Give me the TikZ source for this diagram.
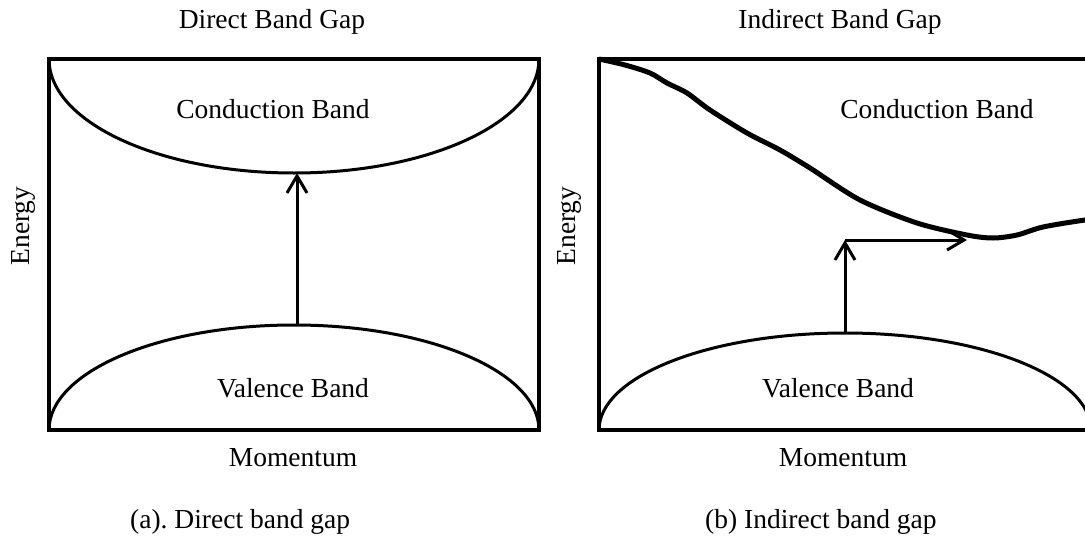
\documentclass[tikz,border=0pt]{standalone}
\usepackage{fontspec}
\setmainfont{Liberation Serif}
\usetikzlibrary{arrows.meta}
\frenchspacing
\begin{document}
\begin{tikzpicture}[x=1pt,y=-1pt,
  lbl/.style={font=\fontsize{27.5}{30}\selectfont, inner sep=0pt, anchor=base},
  vlbl/.style={font=\fontsize{27.5}{30}\selectfont, inner sep=0pt, rotate=90},
  frame/.style={line width=4.5pt, line cap=rect},
  band/.style={line width=3pt},
  bandthick/.style={line width=5pt, line join=round},
  trans/.style={line width=3pt, -{Straight Barb[length=17pt,width=20pt,line width=3pt]}}]
\useasboundingbox (0,0) rectangle (1085,538);
\begin{scope}
\clip (0,0) rectangle (1085,538);
% ---- left panel
\node[lbl] (t1) at (272,28) {Direct Band Gap};
\draw[band] (49,59) arc[start angle=180, end angle=0, x radius=245, y radius=114];
\draw[band] (49,430) arc[start angle=180, end angle=360, x radius=245, y radius=105];
\draw[frame] (49,59) rectangle (539,430);
\node[lbl] (cb1) at (273,118) {Conduction Band};
\node[lbl] (vb1) at (293,397) {Valence Band};
\node[vlbl] (e1) at (23,226) {Energy};
\node[lbl] (m1) at (293,466) {Momentum};
\node[lbl, anchor=base west] (c1) at (130,528) {(a). Direct band gap};
\coordinate (vtop1) at (297,325);
\coordinate (cbot1) at (297,173);
\draw[trans] (vtop1) -- (cbot1);
% ---- right panel
\node[lbl] (t2) at (840,28) {Indirect Band Gap};
\draw[bandthick] plot[smooth, tension=0.5] coordinates {(599,59) (625,65) (650,73) (667,83) (687,93) (710,110) (747,133) (780,150) (810,168) (860,200) (917,223) (967,235) (993,238) (1017,235) (1043,227) (1085,220) (1100,219)};
\draw[band] (599,430) arc[start angle=180, end angle=360, x radius=246, y radius=97];
\draw[frame] (599,59) rectangle (1110,430);
\node[lbl] (cb2) at (937,118) {Conduction Band};
\node[lbl] (vb2) at (838,397) {Valence Band};
\node[vlbl] (e2) at (569,226) {Energy};
\node[lbl] (m2) at (843,466) {Momentum};
\node[lbl, anchor=base west] (c2) at (705,528) {(b) Indirect band gap};
\coordinate (vtop2) at (845,333);
\coordinate (corner2) at (845,240);
\coordinate (cmin2) at (967,240);
\draw[trans] (vtop2) -- (corner2);
\draw[trans] (corner2) -- (cmin2);
\end{scope}
\end{tikzpicture}
\end{document}
